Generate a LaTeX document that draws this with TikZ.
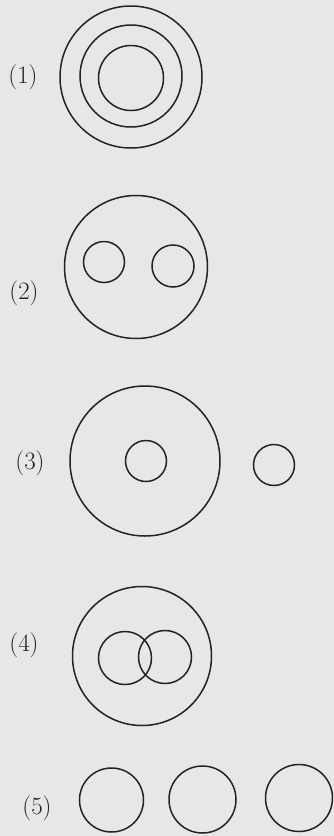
\documentclass[tikz,border=0pt]{standalone}
\usepackage{xcolor}
\usepackage{tikz}
\usetikzlibrary{positioning}

\definecolor{paper}{RGB}{231,231,229}
\definecolor{ink}{RGB}{35,35,35}

\begin{document}
\begin{tikzpicture}[
    x=1pt, y=-1pt,
    ring/.style={draw=ink, circle, line width=1.5pt, inner sep=0pt, minimum size=#1},
    tag/.style={font=\fontsize{25}{30}\selectfont, text=ink, inner sep=0pt}
]
    \fill[paper] (0,0) rectangle (334,836);
    \useasboundingbox (0,0) rectangle (334,836);

    % (1) three concentric circles
    \node[tag] (t1) at (23,77) {(1)};
    \node[ring=142pt] (oneOut) at (131,77) {};
    \node[ring=102pt] (oneMid) at (131,76) {};
    \node[ring=65pt] (oneIn) at (131,78) {};

    % (2) two circles inside one
    \node[tag] (t2) at (24,293) {(2)};
    \node[ring=143pt] (twoOut) at (136,267) {};
    \node[ring=41pt] (twoL) at (104,262) {};
    \node[ring=42pt] (twoR) at (173,266) {};

    % (3) one inside, one outside
    \node[tag] (t3) at (30,463) {(3)};
    \node[ring=150pt] (threeOut) at (145,461) {};
    \node[ring=41pt] (threeIn) at (146,461) {};
    \node[ring=41pt] (threeR) at (274,465) {};

    % (4) two overlapping circles inside one
    \node[tag] (t4) at (24,645) {(4)};
    \node[ring=139pt] (fourOut) at (142,656) {};
    \node[ring=53pt] (fourL) at (125,658) {};
    \node[ring=53pt] (fourR) at (165,657) {};

    % (5) three separate circles
    \node[tag] (t5) at (37,808) {(5)};
    \node[ring=64pt] (fiveA) at (111.5,800) {};
    \node[ring=67pt] (fiveB) at (202.5,799.5) {};
    \node[ring=67pt] (fiveC) at (299,798) {};
\end{tikzpicture}
\end{document}
